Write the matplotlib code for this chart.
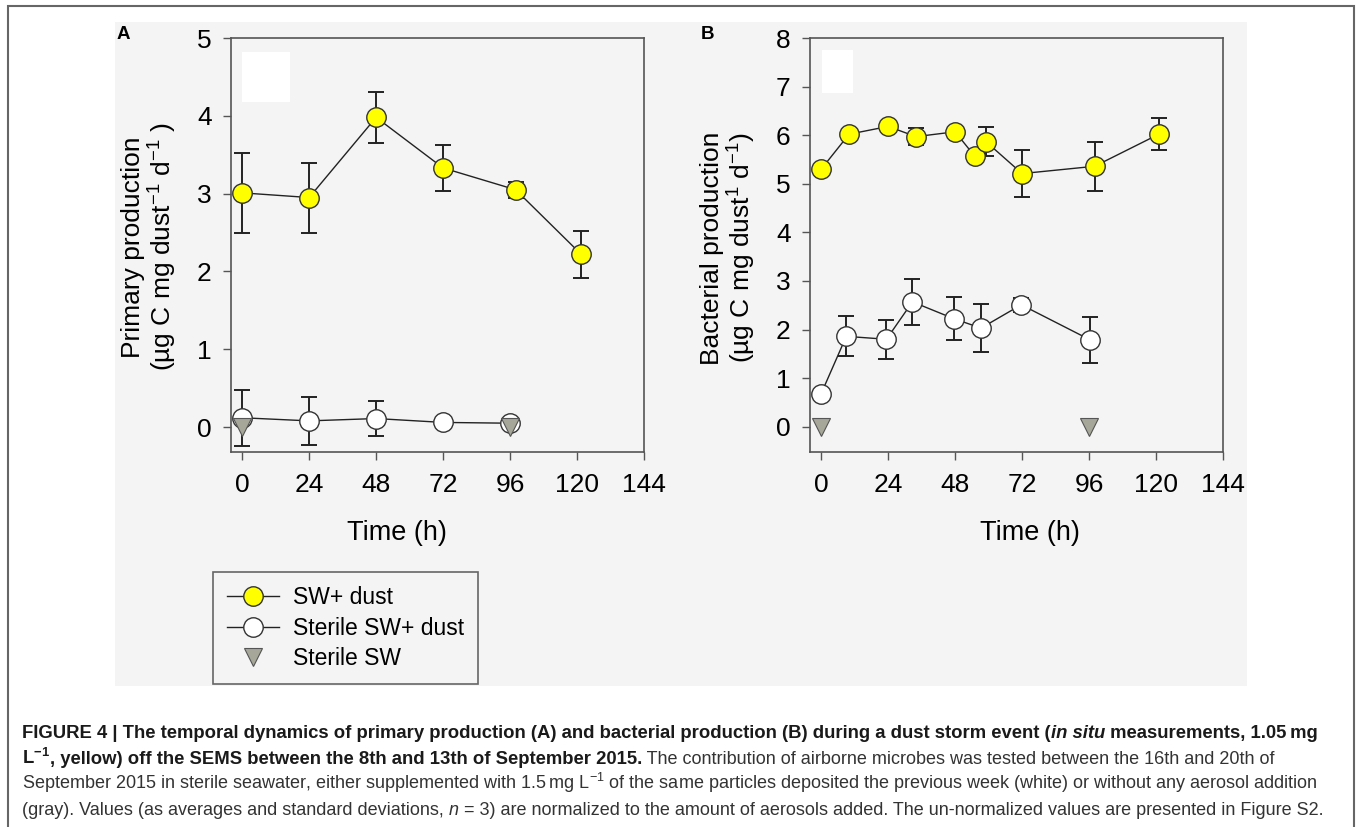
import matplotlib
matplotlib.use("Agg")
import matplotlib.pyplot as plt
from matplotlib.patches import Rectangle

plt.rcParams['font.family'] = ['Liberation Sans', 'DejaVu Sans']
plt.rcParams['mathtext.fontset'] = 'custom'
plt.rcParams['mathtext.rm'] = 'Liberation Sans'
plt.rcParams['mathtext.it'] = 'Liberation Sans:italic'
plt.rcParams['mathtext.bf'] = 'Liberation Sans:bold'

# ---------------- data ----------------
# Panel A: primary production
a_dust_h = [0, 24, 48, 72, 98, 121.5]
a_dust_val = [3.01, 2.95, 3.98, 3.33, 3.05, 2.22]
a_dust_sd = [0.51, 0.45, 0.33, 0.30, 0.10, 0.30]

a_ster_h = [0, 24, 48, 72, 96]
a_ster_val = [0.12, 0.08, 0.11, 0.06, 0.05]
a_ster_sd = [0.36, 0.31, 0.23, 0.0, 0.0]

a_sw_h = [0, 96]
a_sw_val = [0.0, 0.0]

# Panel B: bacterial production
b_dust_h = [0, 10, 24, 34, 48, 55, 59, 72, 98, 121]
b_dust_val = [5.30, 6.02, 6.18, 5.97, 6.07, 5.57, 5.87, 5.21, 5.36, 6.02]
b_dust_sd = [0.05, 0.05, 0.05, 0.17, 0.08, 0.05, 0.30, 0.48, 0.50, 0.33]

b_ster_h = [0, 9, 23.4, 32.7, 47.7, 57.3, 71.7, 96.3]
b_ster_val = [0.68, 1.86, 1.80, 2.57, 2.22, 2.03, 2.51, 1.79]
b_ster_sd = [0.0, 0.41, 0.40, 0.47, 0.44, 0.50, 0.14, 0.47]

b_sw_h = [0, 96]
b_sw_val = [0.0, 0.0]

xticks = [0, 24, 48, 72, 96, 120, 144]
legend_labels = ["SW+ dust", "Sterile SW+ dust", "Sterile SW"]

# ---------------- layout helpers ----------------
W, H = 1358, 827
fig = plt.figure(figsize=(W / 100, H / 100), dpi=100)
fig.patch.set_facecolor('white')

def fx(x):
    return x / W

def fy(y):
    return 1 - y / H

# outer border and grey panel
fig.add_artist(Rectangle((fx(8), fy(840)), (1354 - 8) / W, (840 - 6) / H,
                         transform=fig.transFigure, fill=False,
                         edgecolor='#666666', lw=1.5, zorder=0))
fig.add_artist(Rectangle((fx(115), fy(686)), (1247 - 115) / W, (686 - 22) / H,
                         transform=fig.transFigure, facecolor='#f4f4f4',
                         edgecolor='none', zorder=0))

YELLOW = '#ffff00'
GREYTRI = '#a6a699'
SPINE = '#555555'
TICKFS = 19


def style_axes(ax, ylim, yticks):
    ax.set_facecolor('#f4f4f4')
    ax.set_xlim(-4, 144)
    ax.set_ylim(*ylim)
    ax.set_xticks(xticks)
    ax.set_yticks(yticks)
    for s in ax.spines.values():
        s.set_color(SPINE)
        s.set_linewidth(1.2)
    ax.tick_params(direction='out', length=6, width=1, color=SPINE,
                   labelsize=TICKFS, top=False, right=False)
    ax.tick_params(axis='x', pad=9)
    ax.tick_params(axis='y', pad=8)


def draw_series(ax, dh, dv, dsd, sh, sv, ssd, wh, wv):
    ax.errorbar(dh, dv, yerr=dsd, fmt='none', ecolor='#222222',
                elinewidth=1.4, capsize=6, capthick=1.4, zorder=2)
    ax.errorbar(sh, sv, yerr=ssd, fmt='none', ecolor='#222222',
                elinewidth=1.4, capsize=6, capthick=1.4, zorder=2)
    l1, = ax.plot(dh, dv, '-o', color='#222222', lw=1, ms=14,
                  mfc=YELLOW, mec='#333333', mew=1, zorder=4)
    l2, = ax.plot(sh, sv, '-o', color='#222222', lw=1, ms=14,
                  mfc='white', mec='#333333', mew=1, zorder=3)
    l3, = ax.plot(wh, wv, 'v', ms=12.5, mfc=GREYTRI, mec='#555555',
                  mew=0.8, zorder=5, linestyle='none')
    return l1, l2, l3


# Panel A
axA = fig.add_axes([fx(231), fy(452), (644 - 231) / W, (452 - 38) / H])
style_axes(axA, (-0.32, 5.0), [0, 1, 2, 3, 4, 5])
handles = draw_series(axA, a_dust_h, a_dust_val, a_dust_sd,
                      a_ster_h, a_ster_val, a_ster_sd, a_sw_h, a_sw_val)
axA.add_patch(Rectangle((fx(242), fy(102)), 48 / W, 50 / H,
                        transform=fig.transFigure, facecolor='white',
                        edgecolor='none', zorder=1))

# Panel B
axB = fig.add_axes([fx(810), fy(452), (1223 - 810) / W, (452 - 38) / H])
style_axes(axB, (-0.52, 8.0), [0, 1, 2, 3, 4, 5, 6, 7, 8])
draw_series(axB, b_dust_h, b_dust_val, b_dust_sd,
            b_ster_h, b_ster_val, b_ster_sd, b_sw_h, b_sw_val)
axB.add_patch(Rectangle((fx(822), fy(93)), 31 / W, 43 / H,
                        transform=fig.transFigure, facecolor='white',
                        edgecolor='none', zorder=1))

# panel letters
fig.text(fx(117), fy(39), 'A', fontsize=13.5, fontweight='bold', ha='left', va='baseline')
fig.text(fx(701), fy(39), 'B', fontsize=13.5, fontweight='bold', ha='left', va='baseline')

# axis labels
LABFS = 19
fig.text(fx(150), fy(247), 'Primary production\n(µg C mg dust$^{-1}$ d$^{-1}$ )',
         rotation=90, ha='center', va='center', multialignment='center',
         fontsize=LABFS, linespacing=1.1)
fig.text(fx(729), fy(248), 'Bacterial production\n(µg C mg dust$^{1}$ d$^{-1}$)',
         rotation=90, ha='center', va='center', multialignment='center',
         fontsize=LABFS, linespacing=1.1)
fig.text(fx(397), fy(533), 'Time (h)', ha='center', va='center', fontsize=19.5)
fig.text(fx(1030), fy(533), 'Time (h)', ha='center', va='center', fontsize=19.5)

# legend
leg = fig.legend(handles, legend_labels, loc='upper left',
                 bbox_to_anchor=(fx(213), fy(572)), bbox_transform=fig.transFigure,
                 fontsize=16.5, frameon=True, fancybox=False, edgecolor='#666666',
                 facecolor='#f4f4f4', framealpha=1, handlelength=2.25,
                 handletextpad=0.6, labelspacing=0.32, borderpad=0.62,
                 borderaxespad=0)
leg.get_frame().set_linewidth(1.2)

# caption
fig.canvas.draw()
renderer = fig.canvas.get_renderer()
BOLDFS = 13.33
NORMFS = 12.95


def draw_pieces(pieces, x0, ybase):
    x = x0
    for txt, kw in pieces:
        t = fig.text(fx(x), fy(ybase), txt, va='baseline', ha='left', **kw)
        bb = t.get_window_extent(renderer=renderer)
        x = bb.x1


B = dict(fontweight='bold', color='#1a1a1a', fontsize=BOLDFS)
BI = dict(fontweight='bold', style='italic', color='#1a1a1a', fontsize=BOLDFS)
N = dict(color='#333333', fontsize=NORMFS)
NI = dict(color='#333333', style='italic', fontsize=NORMFS)

draw_pieces([
    ("FIGURE 4 | The temporal dynamics of primary production (A) and bacterial production (B) during a dust storm event (", B),
    ("in situ", BI),
    (" measurements, 1.05\u2009mg", B),
], 22, 738)
draw_pieces([
    ("L$^{\\mathbf{-1}}$", B),
    (", yellow) off the SEMS between the 8th and 13th of September 2015.", B),
    (" The contribution of airborne microbes was tested between the 16th and 20th of", N),
], 22, 764)
draw_pieces([
    ("September 2015 in sterile seawater, either supplemented with 1.5\u2009mg L$^{-1}$ of the same particles deposited the previous week (white) or without any aerosol addition", N),
], 22, 789)
draw_pieces([
    ("(gray). Values (as averages and standard deviations, ", N),
    ("n", NI),
    (" = 3) are normalized to the amount of aerosols added. The un-normalized values are presented in Figure S2.", N),
], 22, 815)

fig.savefig('out.png', dpi=100)
